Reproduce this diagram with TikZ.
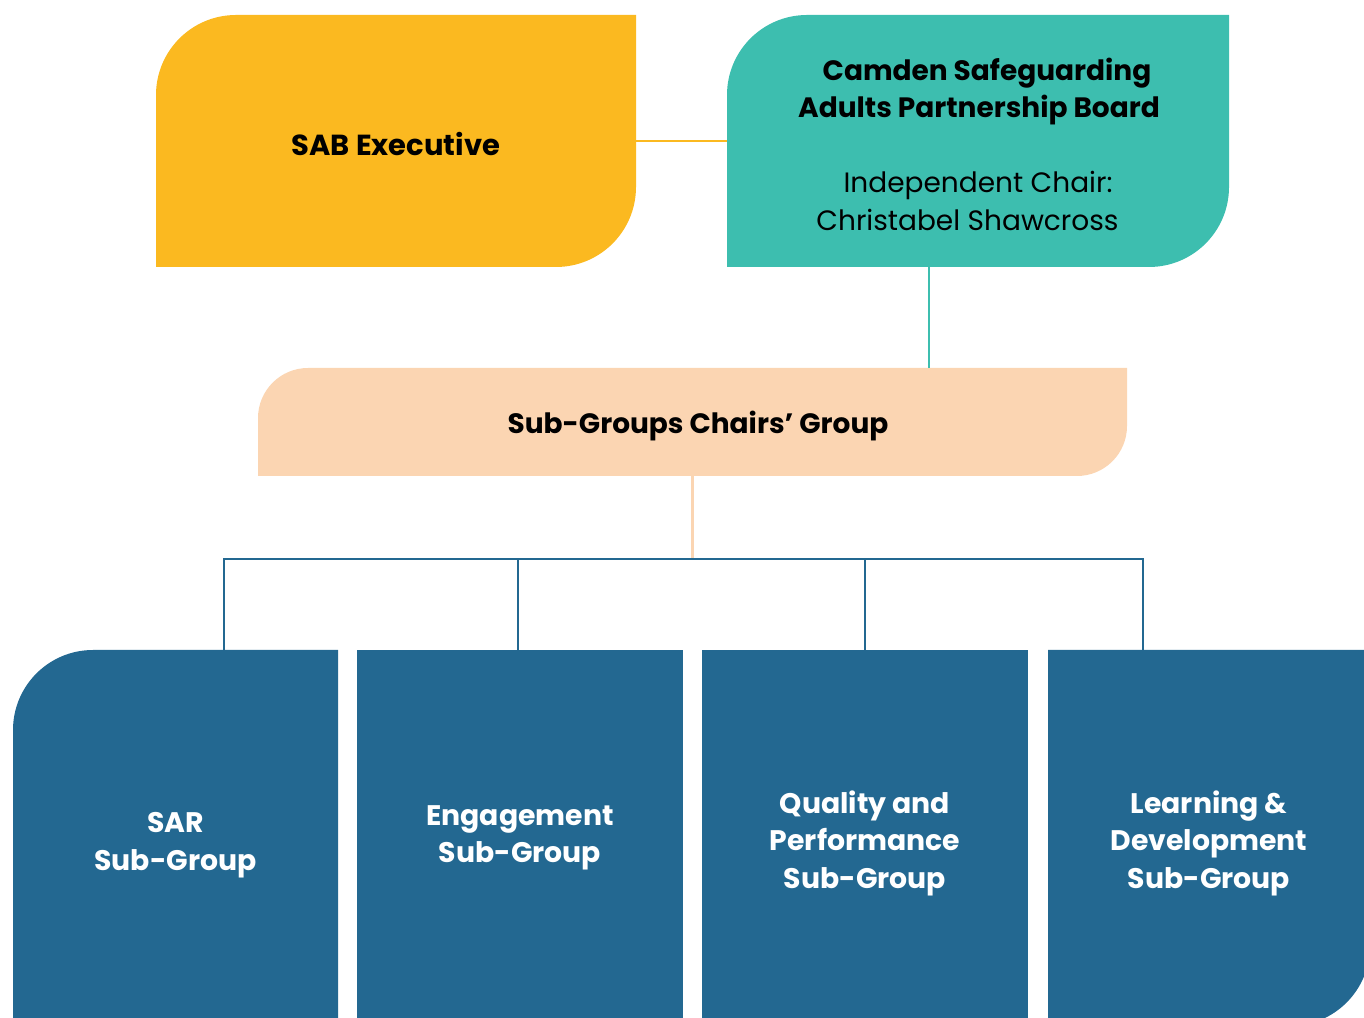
\documentclass[tikz,border=0pt]{standalone}
\usepackage{fontspec}
\setmainfont{Poppins}
\usetikzlibrary{calc,backgrounds}
\definecolor{cyellow}{HTML}{FBB920}
\definecolor{cteal}{HTML}{3DBEAF}
\definecolor{cpeach}{HTML}{FBD5B2}
\definecolor{cblue}{HTML}{236891}
\newcommand\leafshape[3]{\fill[#1] (#2.south west) -- ($(#2.north west)+(0,-#3)$) arc[start angle=180,end angle=90,radius=#3] -- (#2.north east) -- ($(#2.south east)+(0,#3)$) arc[start angle=0,end angle=-90,radius=#3] -- cycle;}
\newcommand\txtlines[2]{\raisebox{#1}[\height][\depth]{\begin{tabular}{@{}c@{}}#2\end{tabular}}}
\begin{document}
\begin{tikzpicture}[x=1pt,y=1pt,
  boxnode/.style={inner sep=0pt, outer sep=0pt},
  topbox/.style={boxnode, minimum height=252pt},
  subbox/.style={boxnode, minimum width=325pt, minimum height=376pt, text=white,
    font=\fontsize{28.3}{37.5}\selectfont\bfseries},
  link/.style={line width=2.3pt}]
\useasboundingbox (0,0) rectangle (1364,1017);
% top row
\node[topbox, minimum width=480pt, font=\fontsize{29}{37}\selectfont\bfseries] (exec) at (396,876) {\txtlines{-7pt}{SAB Executive}};
\node[topbox, minimum width=502pt, font=\fontsize{28}{37.5}\selectfont] (board) at (978,876)
  {\txtlines{-7pt}{\hspace*{18pt}\textbf{Camden Safeguarding}\\\hspace*{2pt}\textbf{Adults Partnership Board}\\[37.5pt]Independent Chair:\\Christabel Shawcross\hspace*{21pt}}};
% middle
\node[boxnode, minimum width=869pt, minimum height=108pt, font=\fontsize{28}{37}\selectfont\bfseries] (chairs) at (692.5,595) {\txtlines{-4pt}{\hspace*{11pt}Sub-Groups Chairs’ Group}};
% bottom row
\node[subbox] (sar) at (175.5,179) {\txtlines{-6pt}{SAR\\Sub-Group}};
\node[subbox, minimum width=326pt] (eng) at (520,179) {\txtlines{1.5pt}{Engagement\\Sub-Group}};
\node[subbox, minimum width=326pt] (qual) at (865,179) {\txtlines{-5.5pt}{Quality and\\Performance\\Sub-Group}};
\node[subbox, minimum width=322pt] (learn) at (1209,179) {\txtlines{-5.5pt}{Learning \&\\Development\\Sub-Group}};
\coordinate (bus) at (692,458);
\begin{pgfonlayer}{background}
  \clip (0,0) rectangle (1364,1017);
  \leafshape{cyellow}{exec}{80pt}
  \leafshape{cteal}{board}{80pt}
  \leafshape{cpeach}{chairs}{50pt}
  \fill[cblue] (sar.south west) -- ($(sar.north west)+(0,-80pt)$) arc[start angle=180,end angle=90,radius=80pt] -- (sar.north east) -- (sar.south east) -- cycle;
  \fill[cblue] (eng.south west) rectangle (eng.north east);
  \fill[cblue] (qual.south west) rectangle (qual.north east);
  \fill[cblue] (learn.south west) -- (learn.north west) -- (learn.north east) -- ($(learn.south east)+(0,80pt)$) arc[start angle=0,end angle=-90,radius=80pt] -- cycle;
\end{pgfonlayer}
% connectors
\draw[link, cyellow] (exec.east) -- (board.west);
\draw[link, cteal] ([xshift=-49pt]board.south) -- ([xshift=-49pt]board.south |- chairs.north);
\draw[link, cpeach] (chairs.south) -- (chairs.south |- bus);
\draw[link, cblue] ([xshift=48.5pt]sar.north) |- ([xshift=-66pt]learn.north |- bus) -- ([xshift=-66pt]learn.north);
\draw[link, cblue] ([xshift=-2pt]eng.north) -- ([xshift=-2pt]eng.north |- bus);
\draw[link, cblue] (qual.north) -- (qual.north |- bus);
\end{tikzpicture}
\end{document}
